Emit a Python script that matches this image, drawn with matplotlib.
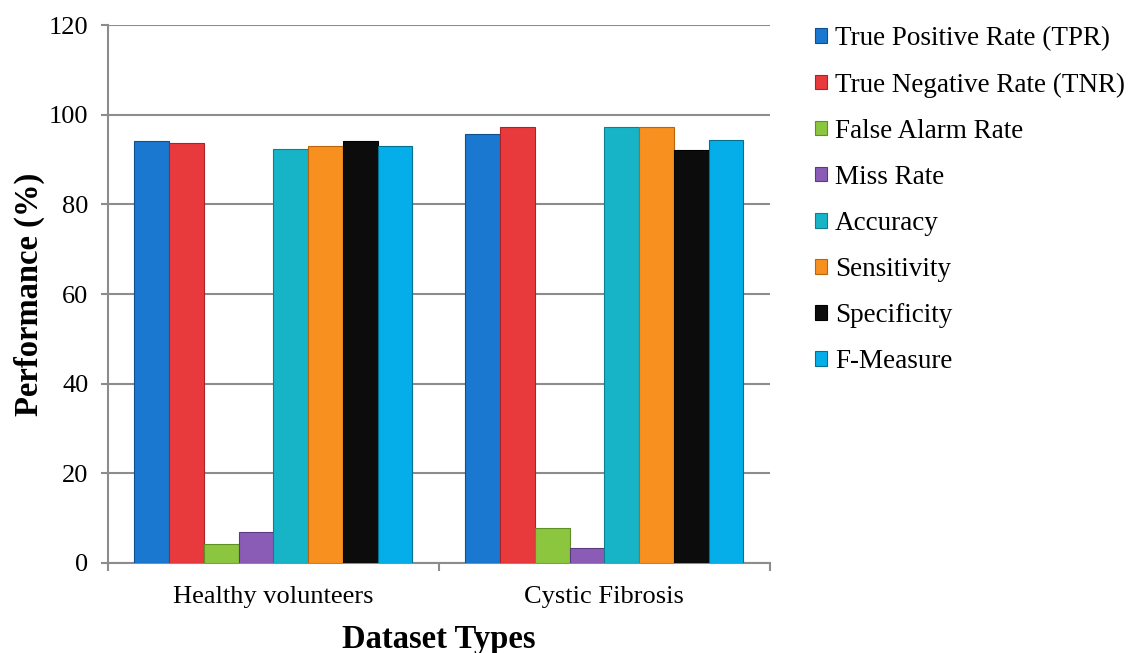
import matplotlib.pyplot as plt
import numpy as np

plt.rcParams['font.family'] = ['Liberation Serif', 'DejaVu Serif']

# data
datasets = ["Healthy volunteers", "Cystic Fibrosis"]
metrics = ["True Positive Rate (TPR)", "True Negative Rate (TNR)", "False Alarm Rate",
           "Miss Rate", "Accuracy", "Sensitivity", "Specificity", "F-Measure"]
tpr = [94.2, 95.8]
tnr = [93.6, 97.3]
far = [4.2, 7.7]
miss = [7.0, 3.3]
accuracy = [92.3, 97.3]
sensitivity = [93.1, 97.3]
specificity = [94.1, 92.1]
fmeasure = [93.1, 94.4]
values = [tpr, tnr, far, miss, accuracy, sensitivity, specificity, fmeasure]

colors = ["#1b78d0", "#e83a3c", "#8cc63e", "#8b5cb5", "#17b4c8", "#f7901e", "#0c0c0c", "#05aee8"]
edges = ["#0f4f8f", "#a82428", "#5f8f25", "#5c3a80", "#0d7f8f", "#b8650e", "#000000", "#04708f"]

fig = plt.figure(figsize=(11.39, 6.53), dpi=100)
ax = fig.add_axes([0.0948, 0.138, 0.581, 0.8235])

x = np.arange(len(datasets))
w = 0.105
for i, (name, vals) in enumerate(zip(metrics, values)):
    off = (i - 3.5) * w
    ax.bar(x + off, vals, w, color=colors[i], edgecolor=edges[i], linewidth=0.8,
           label=name, zorder=3)

ax.set_xlim(-0.5, 1.5)
ax.set_ylim(0, 120)
ax.set_yticks(range(0, 121, 20))
ax.yaxis.grid(True, color="#8c8c8c", linewidth=1.5, zorder=0)
ax.set_xticks(x)
ax.set_xticklabels(datasets, fontsize=19)
ax.set_xticks([-0.5, 0.5, 1.5], minor=True)
ax.tick_params(axis="x", which="major", length=0, pad=17)
ax.tick_params(axis="x", which="minor", length=6, color="#8c8c8c", width=1.5)
ax.tick_params(axis="y", labelsize=19, length=5, color="#8c8c8c", width=1.5, pad=9)
for s in ["top", "right"]:
    ax.spines[s].set_visible(False)
for s in ["left", "bottom"]:
    ax.spines[s].set_color("#8c8c8c")
    ax.spines[s].set_linewidth(1.5)

ax.set_xlabel("Dataset Types", fontsize=23.5, fontweight="bold", labelpad=11)
ax.set_ylabel("Performance (%)", fontsize=23.5, fontweight="bold", labelpad=3)

fig.legend(loc="upper left", bbox_to_anchor=(0.694, 0.997), frameon=False,
           fontsize=19.5, handlelength=0.45, handleheight=0.45, handletextpad=0.3,
           labelspacing=0.78)

fig.savefig("out.png", dpi=100)
